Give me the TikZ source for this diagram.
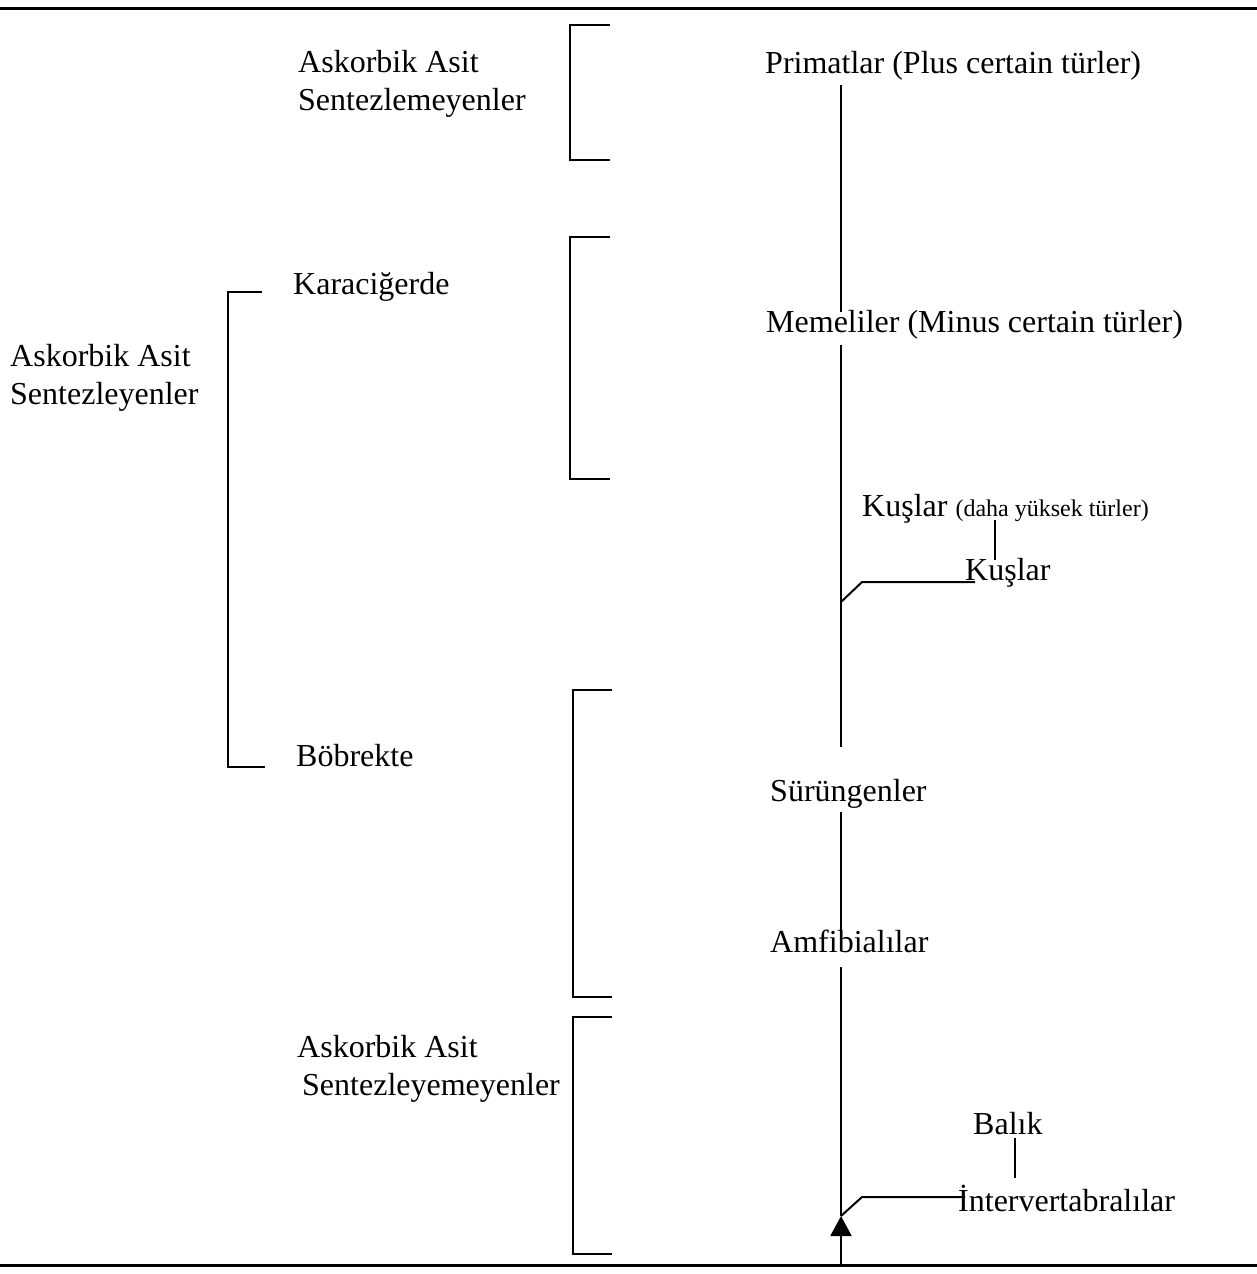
\documentclass[tikz,border=0pt]{standalone}
\usepackage{fontspec}
\setmainfont{Liberation Serif}
\usetikzlibrary{arrows.meta, positioning}
\definecolor{markpink}{RGB}{253,232,236}

\begin{document}
\begin{tikzpicture}[x=1pt, y=-1pt,
  lbl/.style={anchor=west, inner sep=0pt, align=left,
    font=\fontsize{32}{38}\selectfont},
  brk/.style={line width=2.6pt},
  stem/.style={line width=2pt}]
  \useasboundingbox (0,0) rectangle (1257,1274);

  % top and bottom rules
  \draw[line width=3pt] (0,8) -- (1257,8);
  \draw[line width=3pt] (0,1265) -- (1257,1265);

  % labels on the left
  \node[lbl] (sentNo)   at (298,84)   {Askorbik Asit\\Sentezlemeyenler};
  \node[lbl] (kara)     at (293,287)  {Karaciğerde};
  \node[lbl] (sentYes)  at (10,378)   {Askorbik Asit\\Sentezleyenler};
  \node[lbl] (bob)      at (296,756)  {Böbrekte};
  \node[lbl] (sentCant) at (297,1069) {Askorbik Asit\\\hspace*{5pt}Sentezleyemeyenler};

  % labels along the tree
  \node[lbl] (prim)  at (765,66)   {Primatlar (Plus certain türler)};
  \node[lbl] (mem)   at (766,325)  {Memeliler (Minus certain türler)};
  \node[lbl] (kusHi) at (862,509)  {Kuşlar {\fontsize{24}{28}\selectfont(daha yüksek türler)}};
  \node[lbl] (kus)   at (965,573)  {Kuşlar};
  \node[lbl] (sur)   at (770,794)  {Sürüngenler};
  \node[lbl] (amf)   at (770,941)  {Amfibialılar};
  \node[lbl] (balik) at (973,1124) {Balık};
  \node[lbl] (inter) at (958,1198) {İntervertabralılar};

  % brackets
  \draw[brk] (610,25) -- (570,25) -- (570,160) -- (610,160);
  \draw[brk] (610,237) -- (570,237) -- (570,479) -- (610,479);
  \draw[brk] (612,690) -- (573,690) -- (573,997) -- (612,997);
  \draw[brk] (612,1017) -- (573,1017) -- (573,1254) -- (612,1254);
  \draw[stem] (262,292) -- (228,292) -- (228,767) -- (265,767);

  % main stem
  \coordinate (p1) at (841,85);   \coordinate (m1) at (841,312);
  \coordinate (m2) at (841,345);  \coordinate (s1) at (841,747);
  \coordinate (s2) at (841,812);  \coordinate (a1) at (841,935);
  \coordinate (a2) at (841,967);  \coordinate (root) at (841,1216);
  \coordinate (base) at (841,1265);
  \draw[stem] (p1) -- (m1);
  \draw[stem] (m2) -- (s1);
  \draw[stem] (s2) -- (a1);
  \draw[stem] (a2) -- (root);
  \draw[stem, -{Triangle[length=20pt, width=21pt]}] (base) -- (root);

  % side branches
  \coordinate (kfork) at (841,602);
  \draw[stem] (kfork) -- (862,582) -- (975,582);
  \draw[stem] (995,520) -- (995,560);
  \draw[stem] (root) -- (862,1197) -- (965,1197);
  \draw[stem] (1015,1138) -- (1015,1178);
\end{tikzpicture}
\end{document}
